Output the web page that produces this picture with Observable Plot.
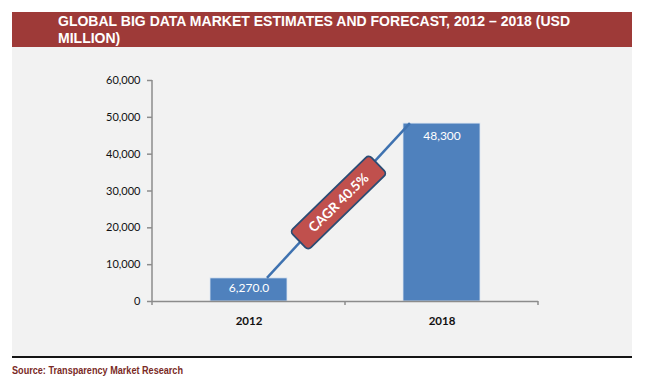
<!DOCTYPE html>
<html>
<head>
<meta charset="utf-8">
<script src="https://cdn.jsdelivr.net/npm/d3@7"></script>
<script src="https://cdn.jsdelivr.net/npm/@observablehq/plot@0.6"></script>
<style>
  body { margin: 0; background: #fff; }
  #wrap { position: absolute; left: 12px; top: 12px; width: 620px; }
  #banner {
    height: 35px; background: #9E3A38; color: #fff; box-sizing: border-box;
    padding: 1px 0 0 46px; overflow: hidden;
    font-family: "Liberation Sans", Arial, sans-serif;
    font-weight: bold; font-size: 14px; line-height: 17px;
  }
  #banner .ln { display: block; white-space: nowrap; transform-origin: 0 50%; width: max-content; }
  #chart { background: #F2F2F2; height: 309px; }
  #chart svg { display: block; }
  #rule { height: 2px; background: #151515; }
  #source {
    margin-top: 7px; line-height: 12px; color: #7A2A26;
    font-family: "Liberation Sans", Arial, sans-serif;
    font-weight: bold; font-size: 10px;
  }
  #source span { display: inline-block; white-space: nowrap; transform-origin: 0 50%; }
</style>
</head>
<body>
<div id="wrap">
  <div id="banner"><span class="ln" id="t1">GLOBAL BIG DATA MARKET ESTIMATES AND FORECAST, 2012 – 2018 (USD</span><span class="ln" id="t2">MILLION)</span></div>
  <div id="chart"></div>
  <div id="rule"></div>
  <div id="source"><span id="src">Source: Transparency Market Research</span></div>
</div>
<script>
const years = ["2012", "2018"];
const values = [6270, 48300];
const valueLabels = ["6,270.0", "48,300"];
const yTicks = [0, 10000, 20000, 30000, 40000, 50000, 60000];
const cagrLabel = "CAGR 40.5%";

const data = years.map((year, i) => ({year, value: values[i], label: valueLabels[i]}));

// condense title and source to narrow-font widths
const t1 = document.getElementById("t1"), t2 = document.getElementById("t2");
const s1 = 512 / t1.getBoundingClientRect().width;
t1.style.transform = t2.style.transform = `scaleX(${s1})`;
const src = document.getElementById("src");
src.style.transform = `scaleX(${171 / src.getBoundingClientRect().width})`;

const plot = Plot.plot({
  width: 620,
  height: 309,
  marginLeft: 140,
  marginRight: 94,
  marginTop: 33,
  marginBottom: 55,
  style: {background: "transparent", fontFamily: "Lato, sans-serif", fontSize: "11px", color: "#111"},
  x: {domain: years, paddingInner: 0.6, paddingOuter: 0.3, tickSize: 0, tickPadding: 15, label: null},
  y: {domain: [0, 60000], ticks: yTicks, tickFormat: d3.format(","), tickSize: 5, tickPadding: 7, label: null},
  marks: [
    Plot.barY(data, {x: "year", y: "value", fill: "#4F81BD", stroke: "#DCE6F2", strokeWidth: 0.8}),
    Plot.ruleY([0], {stroke: "#8C8C8C", strokeWidth: 1.5}),
    Plot.text(data.filter(d => d.year === "2012"), {x: "year", y: "value", text: "label", dy: 10, fill: "#fff", fontSize: 12}),
    Plot.text(data.filter(d => d.year === "2018"), {x: "year", y: "value", text: "label", dy: 13, fill: "#fff", fontSize: 12})
  ]
});

document.getElementById("chart").appendChild(plot);

const svg = d3.select(plot);
const xs = plot.scale("x");
const ys = plot.scale("y");
const bw = xs.bandwidth;
const xPos = v => xs.apply(v);
const yPos = v => ys.apply(v);

// axis styling
svg.selectAll('[aria-label^="x-axis"] text').attr("font-weight", "bold").attr("font-size", "11.5px");
svg.selectAll('[aria-label^="y-axis"] path, [aria-label^="y-axis"] line').attr("stroke", "#8C8C8C").attr("stroke-width", 1.5);

// y axis line
const x0 = xs.range[0], x1 = xs.range[1];
svg.append("line").attr("x1", x0).attr("x2", x0).attr("y1", yPos(60000)).attr("y2", yPos(0))
  .attr("stroke", "#8C8C8C").attr("stroke-width", 1.5);

// category boundary ticks on x axis
const mid = (xPos(years[0]) + bw + xPos(years[1])) / 2;
[x0, mid, x1].forEach(xv => {
  svg.append("line").attr("x1", xv).attr("x2", xv).attr("y1", yPos(0)).attr("y2", yPos(0) + 4)
    .attr("stroke", "#8C8C8C").attr("stroke-width", 1.5);
});

// CAGR connector line
const sx = xPos(years[0]) + bw * 0.74, sy = yPos(values[0]);
const ex = xPos(years[1]) + bw * 0.09, ey = yPos(values[1]);
svg.append("line").attr("x1", sx).attr("y1", sy).attr("x2", ex).attr("y2", ey)
  .attr("stroke", "#3F72B0").attr("stroke-width", 2.5);

const cx = (sx + ex) / 2, cy = (sy + ey) / 2 + 2;
const ang = Math.atan2(ey - sy, ex - sx) * 180 / Math.PI + 3;
const g = svg.append("g").attr("transform", `translate(${cx},${cy}) rotate(${ang})`);
g.append("rect").attr("x", -55).attr("y", -13).attr("width", 110).attr("height", 26).attr("rx", 4)
  .attr("fill", "#C0504D").attr("stroke", "#2B4C74").attr("stroke-width", 1.8);
g.append("text").attr("text-anchor", "middle").attr("dy", "0.36em").attr("fill", "#fff")
  .attr("font-family", "Lato, sans-serif").attr("font-weight", "bold").attr("font-size", "13.5px")
  .text(cagrLabel);
</script>
</body>
</html>
